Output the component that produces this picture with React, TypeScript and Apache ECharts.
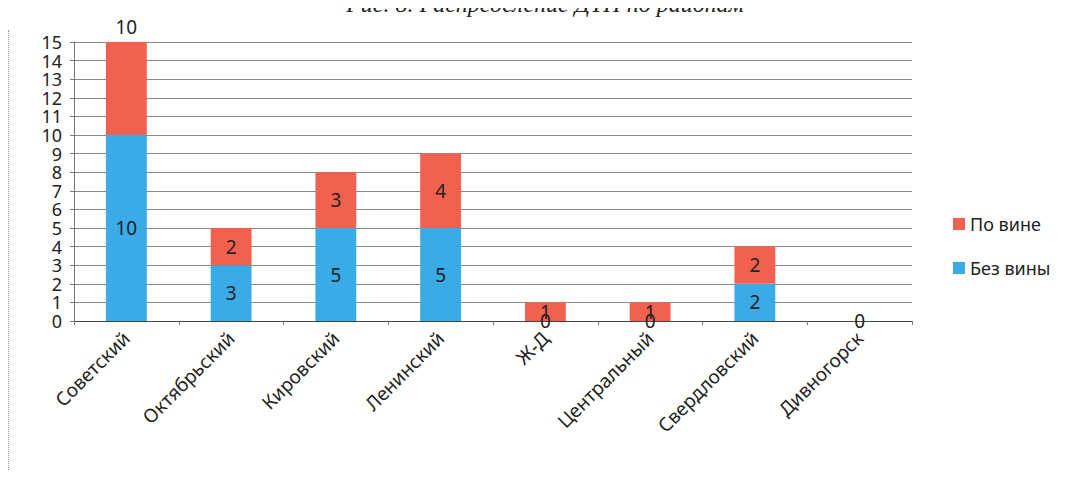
import React, { useEffect, useRef } from "react";
import * as echarts from "echarts";

const categories = ["Советский", "Октябрьский", "Кировский", "Ленинский", "Ж-Д", "Центральный", "Свердловский", "Дивногорск"];
const bezViny = [10, 3, 5, 5, 0, 0, 2, 0];
const poVine = [10, 2, 3, 4, 1, 1, 2, 0];
const titleText = "Рис. 8. Распределение ДТП по районам";

export default function App() {
  const ref = useRef<HTMLDivElement>(null);
  useEffect(() => {
    if (!ref.current) return;
    const chart = echarts.init(ref.current, null, { renderer: "svg" });
    const font = "'Noto Sans', 'Open Sans', sans-serif";
    chart.setOption({
      animation: false,
      backgroundColor: "#ffffff",
      title: {
        text: titleText,
        left: 540,
        textAlign: "center",
        top: -13,
        textStyle: { fontFamily: "'Liberation Serif', serif", fontStyle: "italic", fontWeight: "normal", fontSize: 24, color: "#222" },
      },
      legend: {
        orient: "vertical",
        left: 948,
        top: 210,
        itemGap: 26,
        itemWidth: 12,
        itemHeight: 12,
        icon: "rect",
        data: ["По вине", "Без вины"],
        textStyle: { fontFamily: font, fontSize: 18, color: "#222" },
      },
      grid: { left: 74, right: 173, top: 42, bottom: 157 },
      xAxis: {
        type: "category",
        data: categories,
        axisLine: { lineStyle: { color: "#444" } },
        axisTick: { show: true, length: 4, lineStyle: { color: "#777" } },
        axisLabel: { rotate: 45, interval: 0, fontFamily: font, fontSize: 19, color: "#222", margin: 14 },
      },
      yAxis: {
        type: "value",
        min: 0,
        max: 15,
        interval: 1,
        axisLine: { show: true, lineStyle: { color: "#777" } },
        axisTick: { show: true, length: 4, lineStyle: { color: "#777" } },
        axisLabel: { fontFamily: font, fontSize: 18, color: "#222", margin: 12, lineHeight: 16, hideOverlap: false, showMinLabel: true, showMaxLabel: true },
        splitLine: { lineStyle: { color: "#888", width: 1 } },
      },
      series: [
        {
          name: "Без вины",
          type: "bar",
          stack: "a",
          barWidth: "39%",
          data: bezViny,
          itemStyle: { color: "#3aabe6" },
          label: { show: true, position: "inside", fontFamily: font, fontSize: 19, color: "#222", formatter: (p: any) => String(p.value) },
        },
        {
          name: "По вине",
          type: "bar",
          stack: "a",
          barWidth: "39%",
          data: poVine.map((v, i) =>
            i === 0
              ? { value: v, label: { position: "insideTop", offset: [0, -30] } }
              : v === 0
              ? { value: v, label: { show: false } }
              : v
          ),
          itemStyle: { color: "#f2604f" },
          label: { show: true, position: "inside", fontFamily: font, fontSize: 19, color: "#222", formatter: (p: any) => String(p.value) },
        },
      ],
    });
    return () => chart.dispose();
  }, []);
  return (
    <div style={{ position: "relative", width: 1069, height: 462 }}>
      <div ref={ref} style={{ width: 1085, height: 478, margin: -8, position: "absolute", left: 0, top: 0 }} />
      <div style={{ position: "absolute", left: 0, top: 22, bottom: -16, borderLeft: "1px dotted #999" }} />
    </div>
  );
}
